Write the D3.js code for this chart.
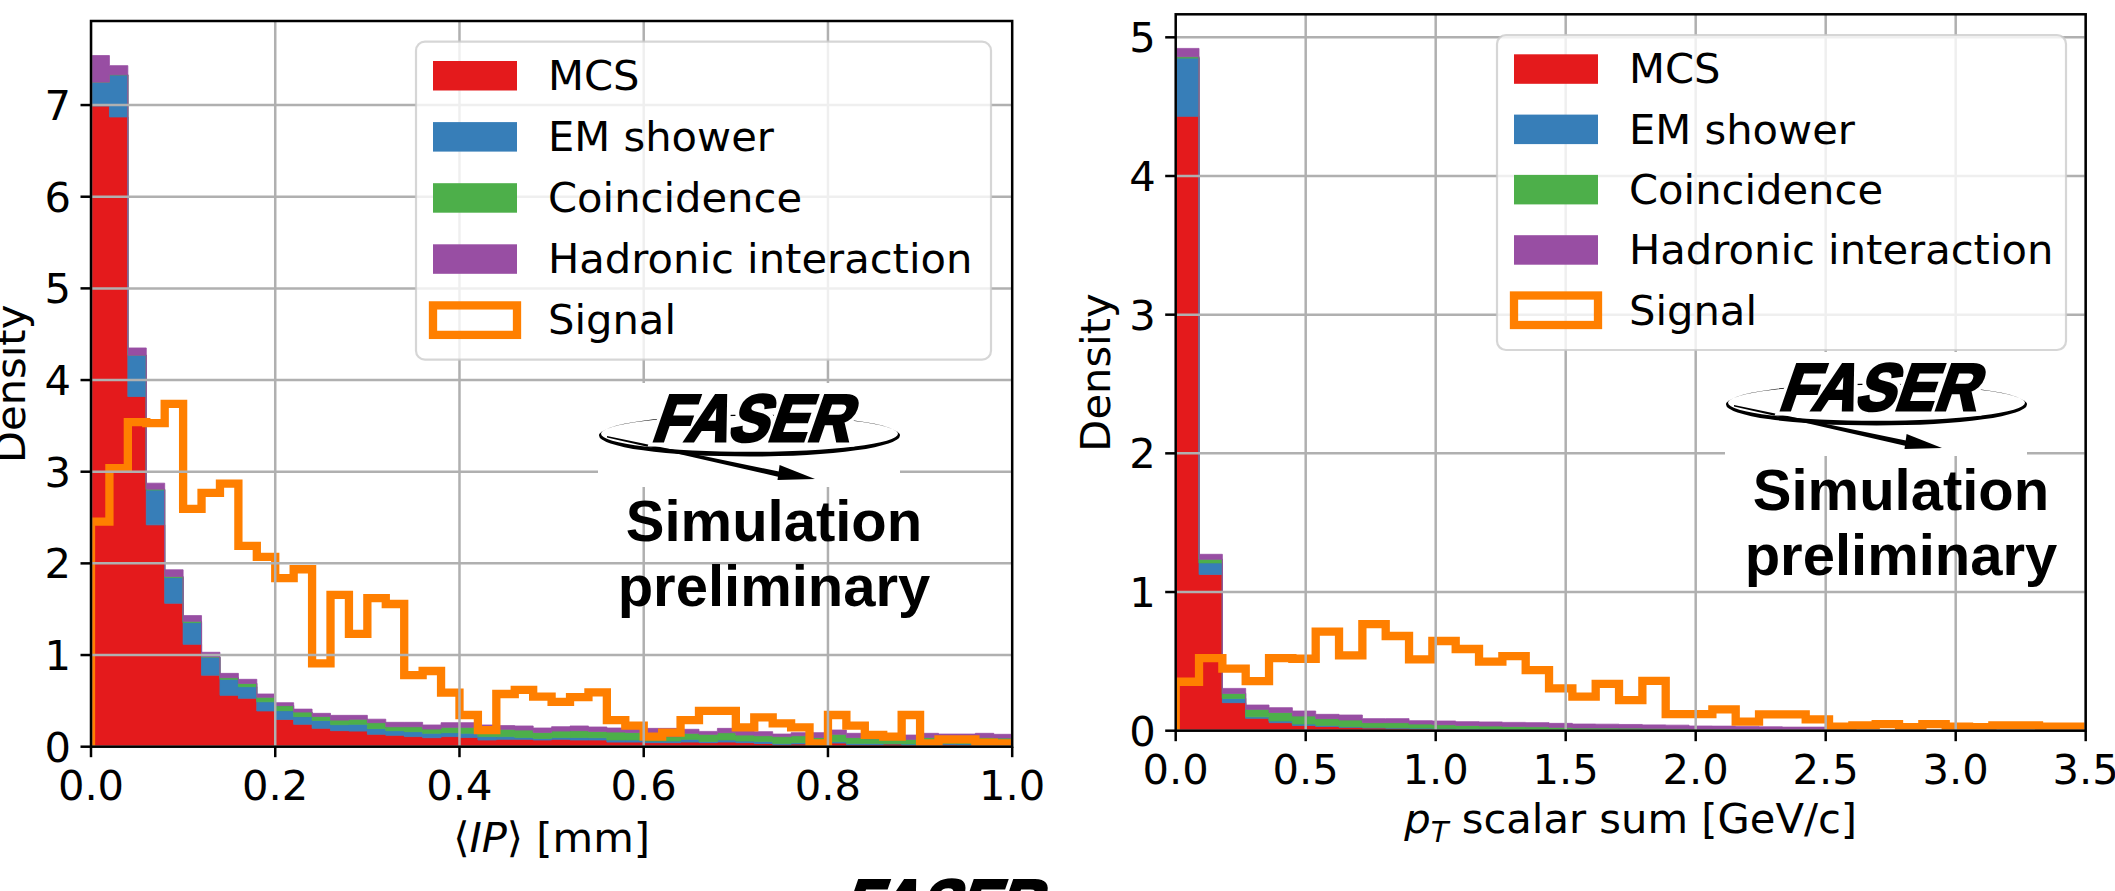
<!DOCTYPE html>
<html>
<head>
<meta charset="utf-8">
<script src="https://cdn.jsdelivr.net/npm/d3@7"></script>
<style>
  body { margin: 0; background: #fff; }
  svg text { font-family: "DejaVu Sans", sans-serif; }
</style>
</head>
<body>
<svg id="chart" width="2115" height="891"></svg>
<script>
// ---- data (densities) ----
const seriesNames = ["MCS", "EM shower", "Coincidence", "Hadronic interaction"];
const signalName = "Signal";
const seriesColors = ["#e41a1c", "#377eb8", "#4daf4a", "#984ea3"];
const signalColor = "#ff7f00";

// left: <IP> [mm], 50 bins on [0, 1]
const ipRange = [0, 1];
const ipBins = 50;
const ipMCS = [6.99, 6.87, 3.82, 2.42, 1.565, 1.117, 0.78, 0.56, 0.528, 0.39,
  0.298, 0.244, 0.20, 0.175, 0.17, 0.135, 0.124, 0.11, 0.098, 0.11,
  0.10, 0.073, 0.08, 0.08, 0.073, 0.08, 0.073, 0.073, 0.05, 0.05,
  0.044, 0.044, 0.05, 0.044, 0.05, 0.044, 0.036, 0.025, 0.03, 0.025,
  0.04, 0.022, 0.022, 0.03, 0.018, 0.018, 0.022, 0.018, 0.018, 0.018];
const ipEM = [0.26, 0.46, 0.45, 0.38, 0.28, 0.237, 0.195, 0.175, 0.127, 0.10,
  0.095, 0.084, 0.087, 0.065, 0.074, 0.062, 0.051, 0.054, 0.048, 0.043,
  0.046, 0.037, 0.03, 0.02, 0.017, 0.02, 0.027, 0.025, 0.023, 0.023,
  0.018, 0.018, 0.03, 0.014, 0.023, 0.018, 0.022, 0.011, 0.014, 0.011,
  0.015, 0.014, 0.014, 0.003, 0.012, 0.015, 0.014, 0.015, 0.012, 0.012];
const ipCoinc = [0, 0, 0, 0.01, 0.011, 0.014, 0.005, 0.018, 0.035, 0.049,
  0.055, 0.05, 0.043, 0.05, 0.056, 0.065, 0.043, 0.054, 0.047, 0.058,
  0.065, 0.08, 0.08, 0.082, 0.066, 0.071, 0.075, 0.069, 0.087, 0.083,
  0.088, 0.048, 0.066, 0.077, 0.08, 0.065, 0.062, 0.074, 0.076, 0.064,
  0.08, 0.064, 0.051, 0.047, 0.05, 0.067, 0.064, 0.067, 0.07, 0.065];
const ipHad = [0.29, 0.10, 0.08, 0.065, 0.074, 0.062, 0.05, 0.047, 0.045, 0.036,
  0.032, 0.032, 0.034, 0.052, 0.042, 0.038, 0.048, 0.048, 0.044, 0.051,
  0.051, 0.047, 0.04, 0.044, 0.048, 0.047, 0.051, 0.048, 0.044, 0.041,
  0.05, 0.09, 0.044, 0.032, 0.047, 0.044, 0.044, 0.028, 0.033, 0.053,
  0.047, 0.046, 0.051, 0.055, 0.047, 0.046, 0.038, 0.038, 0.046, 0.04];
const ipSignal = [2.456, 3.04, 3.54, 3.53, 3.74, 2.595, 2.77, 2.87, 2.19, 2.07,
  1.84, 1.936, 0.91, 1.656, 1.23, 1.62, 1.557, 0.78, 0.826, 0.59,
  0.346, 0.18, 0.575, 0.62, 0.546, 0.49, 0.54, 0.593, 0.29, 0.23,
  0.11, 0.153, 0.29, 0.39, 0.39, 0.21, 0.32, 0.255, 0.21, 0.036,
  0.346, 0.23, 0.13, 0.11, 0.346, 0.036, 0.08, 0.08, 0.044, 0.036];
const ipTicksX = [0, 0.2, 0.4, 0.6, 0.8, 1.0];
const ipTicksY = [0, 1, 2, 3, 4, 5, 6, 7];

// right: pT scalar sum [GeV/c], 39 bins on [0, 3.5]
const ptRange = [0, 3.5];
const ptBins = 39;
const ptMCS = [4.43, 1.127, 0.202, 0.089, 0.058, 0.038, 0.031, 0.024, 0.019, 0.017,
  0.014, 0.012, 0.010, 0.010, 0.008, 0.007, 0.006, 0.005, 0.005, 0.005,
  0.004, 0.004, 0.003, 0.003, 0.003, 0.002, 0.002, 0.002, 0, 0,
  0, 0, 0, 0, 0, 0, 0, 0, 0];
const ptEM = [0.42, 0.083, 0.031, 0.011, 0.012, 0.010, 0.007, 0.005, 0.005, 0.005,
  0.005, 0.005, 0.004, 0.002, 0.002, 0.002, 0.002, 0.001, 0.001, 0.001,
  0.001, 0.001, 0.001, 0.001, 0.001, 0.001, 0.001, 0.001, 0, 0,
  0, 0, 0, 0, 0, 0, 0, 0, 0];
const ptCoinc = [0.01, 0.026, 0.036, 0.054, 0.062, 0.058, 0.049, 0.048, 0.034, 0.036,
  0.029, 0.026, 0.024, 0.022, 0.021, 0.020, 0.016, 0.014, 0.014, 0.013,
  0.012, 0.011, 0.008, 0.008, 0.007, 0.006, 0.005, 0.005, 0, 0,
  0, 0, 0, 0, 0, 0, 0, 0, 0];
const ptHad = [0.06, 0.036, 0.036, 0.031, 0.034, 0.036, 0.031, 0.036, 0.029, 0.029,
  0.024, 0.027, 0.027, 0.029, 0.029, 0.029, 0.029, 0.028, 0.027, 0.026,
  0.025, 0.024, 0.022, 0.021, 0.020, 0.019, 0.018, 0.018, 0, 0,
  0, 0, 0, 0, 0, 0, 0, 0, 0];
const ptSignal = [0.353, 0.524, 0.447, 0.358, 0.524, 0.519, 0.714, 0.543, 0.769, 0.683,
  0.514, 0.647, 0.589, 0.498, 0.538, 0.4375, 0.305, 0.245, 0.337, 0.22,
  0.36, 0.12, 0.12, 0.154, 0.065, 0.118, 0.118, 0.082, 0.029, 0.038,
  0.048, 0.026, 0.048, 0.029, 0.026, 0.038, 0.038, 0.029, 0.029];
const ptTicksX = [0, 0.5, 1.0, 1.5, 2.0, 2.5, 3.0, 3.5];
const ptTicksY = [0, 1, 2, 3, 4, 5];

const FS = 41.67;   // 20pt at 150 dpi
const svg = d3.select("#chart");
const defs = svg.append("defs");

// ---- FASER logo (drawn once, reused) ----
function ellipsePath(cx, cy, rx, ry) {
  return `M${cx - rx},${cy} a${rx},${ry} 0 1,0 ${2 * rx},0 a${rx},${ry} 0 1,0 ${-2 * rx},0 Z`;
}
const logo = defs.append("g").attr("id", "faserLogo");
logo.append("rect").attr("width", 302).attr("height", 104).attr("fill", "#fff");
logo.append("path")
  .attr("fill-rule", "evenodd").attr("fill", "#000")
  .attr("d", ellipsePath(151.5, 52.5, 150.5, 21) + ellipsePath(151.5, 50.8, 148.5, 18));
logo.append("path").attr("fill", "#000").attr("d", "M9,53 L181,88.5 L181,94 L9,54.5 Z");
logo.append("path").attr("fill", "#000").attr("d", "M181.6,82 L179.5,97 L217,96 Z");
const faserTxt = logo.append("g").attr("transform", "translate(52,59.7) skewX(-19)");
[["#fff", 11], ["#000", 3.2]].forEach(([c, w]) => {
  faserTxt.append("text")
    .text("FASER")
    .attr("y", -1.5)
    .attr("textLength", 198).attr("lengthAdjust", "spacingAndGlyphs")
    .style("font-family", "'Liberation Sans', Arial, sans-serif")
    .attr("font-weight", "bold").attr("font-size", 66)
    .attr("fill", c).attr("stroke", c).attr("stroke-width", w)
    .attr("stroke-linejoin", "miter");
});

// ---- one panel ----
function drawPanel(p) {
  const x = d3.scaleLinear().domain(p.range).range([p.box.x0, p.box.x1]);
  const edges = d3.range(p.bins + 1).map(i => p.range[0] + i * (p.range[1] - p.range[0]) / p.bins);

  const rows = edges.slice(0, -1).map((e, i) => {
    const r = { i: i };
    seriesNames.forEach((n, k) => r[n] = p.series[k][i]);
    return r;
  });
  const stacked = d3.stack().keys(seriesNames)(rows);
  const ymax = d3.max([d3.max(stacked[stacked.length - 1], d => d[1]), d3.max(p.signal)]) * 1.05;
  const y = d3.scaleLinear().domain([0, ymax]).range([p.box.y1, p.box.y0]);

  const clipId = "clip" + p.id;
  defs.append("clipPath").attr("id", clipId)
    .append("rect")
    .attr("x", p.box.x0).attr("y", p.box.y0)
    .attr("width", p.box.x1 - p.box.x0).attr("height", p.box.y1 - p.box.y0);

  const g = svg.append("g");
  const plot = g.append("g").attr("clip-path", `url(#${clipId})`);

  // stacked background histograms, one filled step area per component
  const area = d3.area()
    .x(d => x(d[0])).y0(d => y(d[1])).y1(d => y(d[2]));
  plot.append("g")
    .selectAll("path")
    .data(stacked)
    .join("path")
    .attr("fill", (d, k) => seriesColors[k])
    .attr("stroke", (d, k) => seriesColors[k])
    .attr("stroke-width", 0.8)
    .attr("d", layer => {
      const pts = [];
      layer.forEach(d => {
        pts.push([edges[d.data.i], d[0], d[1]]);
        pts.push([edges[d.data.i + 1], d[0], d[1]]);
      });
      return area(pts);
    });

  // signal as step outline
  const pts = [[edges[0], 0]];
  p.signal.forEach((v, i) => { pts.push([edges[i], v]); pts.push([edges[i + 1], v]); });
  pts.push([edges[edges.length - 1], 0]);
  plot.append("path")
    .datum(pts)
    .attr("fill", "none")
    .attr("stroke", signalColor)
    .attr("stroke-width", 8.3)
    .attr("stroke-linejoin", "miter")
    .attr("d", d3.line().x(d => x(d[0])).y(d => y(d[1])));

  // grid over the histograms (matplotlib default order)
  const grid = plot.append("g").attr("stroke", "#b0b0b0").attr("stroke-width", 2.5);
  grid.selectAll(".gx").data(p.ticksX).join("line")
    .attr("x1", d => x(d)).attr("x2", d => x(d))
    .attr("y1", p.box.y0).attr("y2", p.box.y1);
  grid.selectAll(".gy").data(p.ticksY).join("line")
    .attr("y1", d => y(d)).attr("y2", d => y(d))
    .attr("x1", p.box.x0).attr("x2", p.box.x1);

  // logo + text
  g.append("use").attr("href", "#faserLogo")
    .attr("x", p.logo[0]).attr("y", p.logo[1]);
  ["Simulation", "preliminary"].forEach((t, i) => {
    g.append("text")
      .text(t)
      .attr("x", p.logo[0] + 176)
      .attr("y", p.logo[1] + 157.5 + i * 65.3)
      .attr("text-anchor", "middle")
      .style("font-family", "'Liberation Sans', Arial, sans-serif")
      .attr("font-weight", "bold")
      .attr("font-size", 58)
      .attr("fill", "#000");
  });

  // legend
  const lg = g.append("g").attr("transform", `translate(${p.legend.x},${p.legend.y})`);
  lg.append("rect")
    .attr("width", p.legend.w).attr("height", p.legend.h)
    .attr("rx", 9).attr("ry", 9)
    .attr("fill", "#fff").attr("fill-opacity", 0.8)
    .attr("stroke", "#cccccc").attr("stroke-opacity", 0.8).attr("stroke-width", 2.2);
  const items = seriesNames.concat([signalName]);
  items.forEach((name, k) => {
    const top = 19.3 + k * p.legend.pitch;
    if (k < seriesNames.length) {
      lg.append("rect").attr("x", 17).attr("y", top).attr("width", 84).attr("height", 29.5)
        .attr("fill", seriesColors[k]);
    } else {
      lg.append("rect").attr("x", 17).attr("y", top).attr("width", 84).attr("height", 29.5)
        .attr("fill", "none").attr("stroke", signalColor).attr("stroke-width", 8.3);
    }
    lg.append("text").text(name)
      .attr("x", 132).attr("y", top + 29)
      .attr("font-size", FS).attr("fill", "#000");
  });

  // spines
  g.append("rect")
    .attr("x", p.box.x0).attr("y", p.box.y0)
    .attr("width", p.box.x1 - p.box.x0).attr("height", p.box.y1 - p.box.y0)
    .attr("fill", "none").attr("stroke", "#000").attr("stroke-width", 2.5);

  // ticks
  const tk = g.append("g").attr("stroke", "#000").attr("stroke-width", 2.5);
  tk.selectAll(".tx").data(p.ticksX).join("line")
    .attr("x1", d => x(d)).attr("x2", d => x(d))
    .attr("y1", p.box.y1).attr("y2", p.box.y1 + 10.5);
  tk.selectAll(".ty").data(p.ticksY).join("line")
    .attr("y1", d => y(d)).attr("y2", d => y(d))
    .attr("x1", p.box.x0).attr("x2", p.box.x0 - 10.5);

  g.append("g").selectAll("text").data(p.ticksX).join("text")
    .attr("x", d => x(d)).attr("y", p.box.y1 + 53.3)
    .attr("text-anchor", "middle").attr("font-size", FS)
    .text(d3.format(".1f"));
  g.append("g").selectAll("text").data(p.ticksY).join("text")
    .attr("x", p.box.x0 - 20).attr("y", d => y(d) + 15)
    .attr("text-anchor", "end").attr("font-size", FS)
    .text(d3.format("d"));

  // axis labels
  g.append("text")
    .attr("transform", `translate(${p.box.x0 - 66},${(p.box.y0 + p.box.y1) / 2}) rotate(-90)`)
    .attr("text-anchor", "middle").attr("font-size", FS)
    .text("Density");
  const xl = g.append("text")
    .attr("x", (p.box.x0 + p.box.x1) / 2).attr("y", p.xlabelY)
    .attr("text-anchor", "middle").attr("font-size", FS);
  p.xlabel(xl);
}

drawPanel({
  id: "ip",
  range: ipRange, bins: ipBins,
  series: [ipMCS, ipEM, ipCoinc, ipHad], signal: ipSignal,
  ticksX: ipTicksX, ticksY: ipTicksY,
  box: { x0: 91, x1: 1012.2, y0: 21, y1: 746.7 },
  legend: { x: 416, y: 41.7, w: 575, h: 318, pitch: 61.1 },
  logo: [598, 383],
  xlabelY: 851.7,
  xlabel: t => {
    t.append("tspan").text("\u27E8");
    t.append("tspan").attr("font-style", "italic").text("IP");
    t.append("tspan").text("\u27E9 [mm]");
  }
});

drawPanel({
  id: "pt",
  range: ptRange, bins: ptBins,
  series: [ptMCS, ptEM, ptCoinc, ptHad], signal: ptSignal,
  ticksX: ptTicksX, ticksY: ptTicksY,
  box: { x0: 1175.7, x1: 2085.7, y0: 14.3, y1: 730.7 },
  legend: { x: 1497, y: 35, w: 569, h: 315, pitch: 60.3 },
  logo: [1725, 352],
  xlabelY: 833.3,
  xlabel: t => {
    t.append("tspan").attr("font-style", "italic").text("p");
    t.append("tspan").attr("font-style", "italic").attr("font-size", 29).attr("dy", 9).text("T");
    t.append("tspan").attr("dy", -9).text(" scalar sum [GeV/c]");
  }
});

// stray logo copy cut off at the bottom edge
svg.append("use").attr("href", "#faserLogo").attr("x", 787).attr("y", 868);
</script>
</body>
</html>
